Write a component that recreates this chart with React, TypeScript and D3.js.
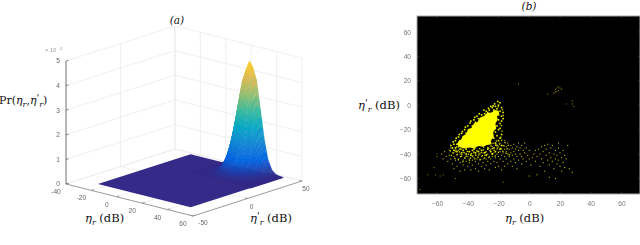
import React, { useEffect, useRef } from "react"
import * as d3 from "d3"

// panel (a): surface heights (x10^-3)
const etaBounds = [-26, 47]
const primeBounds = [-37, 48]
const etaGrid = [-1, 2, 5, 8, 11, 14, 17, 20, 23, 26, 29, 32, 35, 38, 41, 44, 47]
const primeGrid = [18, 21, 24, 27, 30, 33, 36, 39, 42, 45, 48]
const surfaceZ = [
  [0, 0, 0, 0, 0, 0, 0, 0, 0, 0, 0, 0, 0, 0, 0, 0, 0],
  [0, 0, 0, 0, 0.01, 0.02, 0.03, 0.04, 0.05, 0.04, 0.03, 0.02, 0.01, 0, 0, 0, 0],
  [0, 0, 0, 0.01, 0.02, 0.05, 0.09, 0.13, 0.14, 0.13, 0.09, 0.05, 0.02, 0.01, 0, 0, 0],
  [0, 0, 0, 0.02, 0.05, 0.12, 0.22, 0.31, 0.35, 0.31, 0.22, 0.12, 0.05, 0.02, 0, 0, 0],
  [0, 0, 0.01, 0.03, 0.1, 0.25, 0.46, 0.68, 0.77, 0.68, 0.46, 0.25, 0.1, 0.03, 0.01, 0, 0],
  [0, 0, 0.02, 0.07, 0.2, 0.47, 0.88, 1.28, 1.45, 1.28, 0.88, 0.47, 0.2, 0.07, 0.02, 0, 0],
  [0, 0.01, 0.03, 0.11, 0.32, 0.77, 1.43, 2.09, 2.36, 2.09, 1.43, 0.77, 0.32, 0.11, 0.03, 0.01, 0],
  [0, 0.01, 0.04, 0.15, 0.45, 1.09, 2.04, 2.97, 3.36, 2.97, 2.04, 1.09, 0.45, 0.15, 0.04, 0.01, 0],
  [0, 0.01, 0.05, 0.19, 0.56, 1.35, 2.52, 3.66, 4.15, 3.66, 2.52, 1.35, 0.56, 0.19, 0.05, 0.01, 0],
  [0, 0.01, 0.05, 0.2, 0.6, 1.45, 2.7, 3.93, 4.45, 3.93, 2.7, 1.45, 0.6, 0.2, 0.05, 0.01, 0],
  [0, 0.01, 0.05, 0.19, 0.56, 1.35, 2.52, 3.66, 4.15, 3.66, 2.52, 1.35, 0.56, 0.19, 0.05, 0.01, 0]
]
const zTicks = [0, 1, 2, 3, 4, 5]
const etaTicks = [-40, -20, 0, 20, 40, 60]
const primeTicks = [-50, 0, 50]
const parula = ["#352a87", "#0363e1", "#1485d4", "#06a7c6", "#38b99e", "#92bf73", "#d9ba56", "#fcce2e", "#f9fb0e"]

// panel (b): scatter, [eta, eta'] in dB
const scatterTicks = [-60, -40, -20, 0, 20, 40, 60]
const coreOutline = [
  [-47, -32], [-46, -29.5], [-44.5, -28.5], [-43, -25], [-41, -23.5], [-40, -20], [-37.5, -18.5], [-36, -15],
  [-33.5, -13.5], [-32, -10], [-29.5, -9], [-27.5, -6.5], [-24.5, -6], [-22.5, -4], [-20, -4.5], [-19.5, -7],
  [-21, -9], [-20.5, -12], [-22, -15], [-21.5, -19], [-23.5, -22], [-23, -26], [-25, -29], [-24.5, -32],
  [-27.5, -32.5], [-30, -34], [-33, -33.5], [-36, -35.5], [-39, -34.5], [-42, -35.5], [-45, -34.5]
]
const clusterPoints = [
  [-19, 2], [-20, 0], [-22, -1], [-18, -2], [-21, -3], [-24, -2], [-19, -5], [-17, -6], [-23, -4], [-26, -4],
  [-25, -1], [-18, -9], [-20, -8], [-17, -11], [-27, -6], [-29, -7], [-28, -5], [-31, -8], [-30, -10], [-33, -11],
  [-32, -13], [-35, -14], [-34, -16], [-37, -17], [-36, -19], [-39, -20], [-38, -22], [-41, -23], [-40, -25], [-43, -26],
  [-42, -28], [-45, -29], [-44, -31], [-47, -32], [-46, -34], [-48, -35], [-45, -36], [-43, -37], [-41, -36], [-39, -38],
  [-37, -37], [-35, -39], [-33, -38], [-31, -37], [-29, -39], [-27, -36], [-25, -38], [-23, -35], [-21, -33], [-22, -31],
  [-20, -29], [-23, -27], [-21, -25], [-22, -22], [-20, -20], [-21, -17], [-19, -15], [-20, -12], [-18, -13], [-38, -13],
  [-36, -12], [-34, -9], [-40, -17], [-42, -20], [-44, -23], [-46, -26], [-48, -29], [-49, -32], [-50, -35], [-49, -37],
  [-47, -38], [-44, -39], [-41, -40], [-38, -41], [-36, -36], [-28, -41], [-24, -40], [-22, -38], [-19, -36], [-18, -33],
  [-19, -27], [-18, -24], [-19, -19], [-22.5, 1], [-20.5, 3], [-23.5, -0.5], [-26.5, -2.5], [-29.5, -4], [-32.5, -7],
  [-35.5, -10], [-38.5, -14.5], [-41.5, -18], [-43.5, -21.5], [-45.5, -24], [-47.5, -27], [-49.5, -30], [-51, -33]
]
const midPoints = [
  [-51.3, -37.4], [-50.6, -41.2], [-49.2, -39.1], [-48.4, -43.6], [-47.7, -36.8], [-46.9, -40.3], [-46.1, -44.7], [-45.4, -38.2],
  [-44.6, -42.1], [-43.9, -40.6], [-43.2, -46.3], [-42.5, -38.7], [-41.8, -43.4], [-41.1, -41.8], [-40.3, -37.9], [-39.6, -40.2],
  [-38.9, -45.1], [-38.2, -43.2], [-37.5, -39.6], [-36.8, -41.7], [-36.1, -38.3], [-35.4, -43.9], [-34.7, -40.8], [-34, -37.2],
  [-33.3, -42.6], [-32.6, -39.9], [-31.9, -44.4], [-31.2, -38.8], [-30.5, -41.3], [-29.8, -36.6], [-29.1, -43.1], [-28.4, -38.4],
  [-27.7, -40.7], [-27, -34.6], [-26.3, -42.8], [-25.6, -37.1], [-24.9, -33.4], [-24.2, -39.7], [-23.5, -31.2], [-22.8, -36.9],
  [-22.1, -41.5], [-21.4, -29.3], [-20.7, -35.1], [-20, -38.6], [-19.3, -31.8], [-18.6, -35.4], [-17.9, -28.7], [-17.2, -37.8],
  [-16.5, -33.2], [-15.8, -30.6], [-15.1, -39.3], [-14.4, -35.7], [-13.7, -32.9], [-13, -40.6], [-47.3, -34.2], [-45.8, -33.1],
  [-43.4, -34.8], [-41.6, -33.3], [-39.2, -34.7], [-37.1, -34.1], [-35.3, -35.2], [-32.2, -35.6], [-29.7, -34.3], [-26.4, -35.2],
  [-24.1, -35.6], [-21.8, -31.9], [-18.4, -26.2], [-17.7, -21.3], [-18.1, -16.7], [-16.9, -8.4], [-17.4, -3.8], [-20.2, -1.3]
]
const tailPoints = [
  [-57, -40], [-56, -44], [-55, -38], [-54, -42], [-53, -46], [-52, -37], [-52, -41], [-51, -35], [-51, -44], [-50, -39],
  [-50, -48], [-49, -42], [-49, -52], [-48, -38], [-48, -45], [-47, -41], [-47, -50], [-46, -37], [-46, -44], [-45, -40],
  [-45, -47], [-45, -54], [-44, -42], [-44, -36], [-43, -45], [-43, -49], [-42, -39], [-42, -43], [-42, -53], [-41, -46],
  [-40, -38], [-40, -42], [-40, -50], [-39, -44], [-39, -47], [-38, -40], [-38, -53], [-37, -42], [-37, -45], [-37, -49],
  [-36, -39], [-36, -43], [-35, -41], [-35, -46], [-35, -52], [-34, -38], [-34, -44], [-33, -41], [-33, -48], [-33, -54],
  [-32, -40], [-32, -45], [-31, -42], [-31, -50], [-30, -39], [-30, -44], [-30, -47], [-29, -41], [-29, -52], [-28, -38],
  [-28, -44], [-28, -49], [-27, -40], [-27, -46], [-26, -42], [-26, -53], [-25, -36], [-25, -44], [-25, -48], [-24, -34],
  [-24, -42], [-23, -39], [-23, -46], [-22, -33], [-22, -43], [-22, -51], [-21, -36], [-21, -40], [-21, -47], [-20, -34],
  [-20, -42], [-20, -50], [-19, -31], [-19, -38], [-19, -44], [-18, -36], [-18, -41], [-18, -53], [-17, -33], [-17, -39],
  [-17, -46], [-16, -29], [-16, -36], [-16, -42], [-16, -50], [-15, -34], [-15, -38], [-15, -44], [-14, -31], [-14, -40],
  [-14, -48], [-13, -36], [-13, -42], [-12, -33], [-12, -39], [-12, -46], [-11, -35], [-11, -41], [-11, -50], [-10, -32],
  [-10, -38], [-10, -44], [-9, -36], [-9, -40], [-9, -47], [-8, -34], [-8, -42], [-8, -52], [-7, -31], [-7, -37],
  [-7, -45], [-6, -35], [-6, -40], [-5, -33], [-5, -42], [-5, -48], [-4, -37], [-4, -44], [-3, -31], [-3, -39],
  [-2, -35], [-2, -46], [-1, -41], [0, -37], [0, -44], [0, -58], [1, -49], [2, -43], [3, -40], [4, -37],
  [4, -46], [5, -42], [5, -57], [6, -36], [7, -40], [7, -50], [8, -34], [8, -44], [9, -38], [9, -47],
  [10, -33], [10, -54], [11, -41], [11, -36], [12, -45], [12, -32], [13, -39], [13, -49], [13, -59], [14, -35],
  [14, -43], [15, -46], [15, -33], [16, -40], [16, -52], [17, -44], [17, -37], [17, -60], [18, -48], [18, -41],
  [19, -31], [19, -35], [19, -45], [20, -39], [20, -50], [21, -43], [21, -54], [22, -37], [22, -47], [23, -41],
  [23, -51], [24, -44], [25, -33], [26, -52], [28, -55]
]
const outlierPoints = [
  [-71, -69], [-66, -57], [-61, -57], [-62, -51], [-60, -42], [-60, -40], [-58, -58], [-56, -57], [-48, -60], [-17, -63],
  [-7, 17.5], [17, 13], [19, 15], [18, 11], [20, 14], [17, 11], [16, 10], [21, 13], [19, 12], [18, 14],
  [12, 9], [24, 1], [28, 3.5], [28, 1], [29, -1]
]

const App = () => {
  const ref = useRef<SVGSVGElement>(null)

  useEffect(() => {
    const svg = d3.select(ref.current)
    svg.selectAll("*").remove()
    const blur = svg.append("defs").append("filter").attr("id", "soft")
      .attr("x", "-5%").attr("y", "-5%").attr("width", "110%").attr("height", "110%")
    blur.append("feGaussianBlur").attr("stdDeviation", 0.4)
    drawSurface(svg.append("g").attr("filter", "url(#soft)"))
    drawScatter(svg.append("g").attr("filter", "url(#soft)"))
    drawLabels(svg)
  }, [])

  const drawSurface = (g: any) => {
    const origin = [66, 184]
    const etaX = d3.scaleLinear().domain([-40, 60]).range([0, 127])
    const etaY = d3.scaleLinear().domain([-40, 60]).range([0, 32])
    const primeX = d3.scaleLinear().domain([-50, 50]).range([0, 109])
    const primeY = d3.scaleLinear().domain([-50, 50]).range([0, -35])
    const zY = d3.scaleLinear().domain([0, 5]).range([0, -123])
    const color = d3.scaleLinear<string>()
      .domain(parula.map((_, i) => (i * 5) / (parula.length - 1)))
      .range(parula)
    const project = (e: number, p: number, z = 0): [number, number] => [
      origin[0] + etaX(e) + primeX(p),
      origin[1] + etaY(e) + primeY(p) + zY(z)
    ]
    const seg = (a: [number, number], b: [number, number], stroke: string, w = 0.7) =>
      g.append("line").attr("x1", a[0]).attr("y1", a[1]).attr("x2", b[0]).attr("y2", b[1])
        .attr("stroke", stroke).attr("stroke-width", w)
    const gridColor = "#e9e9e9"
    const eMin = -40, eMax = 60, pMin = -50, pMax = 50

    // walls and floor grid
    zTicks.forEach(z => {
      seg(project(eMin, pMin, z), project(eMin, pMax, z), gridColor)
      seg(project(eMin, pMax, z), project(eMax, pMax, z), gridColor)
    })
    etaTicks.forEach(e => {
      seg(project(e, pMax, 0), project(e, pMax, 5), gridColor)
      seg(project(e, pMin, 0), project(e, pMax, 0), gridColor)
    })
    primeTicks.forEach(p => {
      seg(project(eMin, p, 0), project(eMin, p, 5), gridColor)
      seg(project(eMin, p, 0), project(eMax, p, 0), gridColor)
    })

    // flat part of the surface
    const flat = [
      project(etaBounds[0], primeBounds[0]), project(etaBounds[1], primeBounds[0]),
      project(etaBounds[1], primeBounds[1]), project(etaBounds[0], primeBounds[1])
    ]
    g.append("path").attr("d", d3.line()(flat) + "Z").attr("fill", parula[0])

    // peak, shaded like "shading interp": every grid cell is split for the colour ramp
    const steps = 3
    const cells: { d: string; fill: string; depth: number }[] = []
    for (let j = 0; j < primeGrid.length - 1; j++) {
      for (let i = 0; i < etaGrid.length - 1; i++) {
        for (let sj = 0; sj < steps; sj++) {
          for (let si = 0; si < steps; si++) {
            const at = (u: number, v: number) => {
              const z = d3.interpolateNumber(
                d3.interpolateNumber(surfaceZ[j][i], surfaceZ[j][i + 1])(u),
                d3.interpolateNumber(surfaceZ[j + 1][i], surfaceZ[j + 1][i + 1])(u)
              )(v)
              const e = d3.interpolateNumber(etaGrid[i], etaGrid[i + 1])(u)
              const p = d3.interpolateNumber(primeGrid[j], primeGrid[j + 1])(v)
              return { e, p, z }
            }
            const corners = [
              at(si / steps, sj / steps), at((si + 1) / steps, sj / steps),
              at((si + 1) / steps, (sj + 1) / steps), at(si / steps, (sj + 1) / steps)
            ]
            const meanZ = d3.mean(corners, c => c.z) as number
            const depth = d3.mean(corners, c => etaY(c.e) + primeY(c.p)) as number
            cells.push({
              d: d3.line()(corners.map(c => project(c.e, c.p, c.z))) + "Z",
              fill: color(meanZ),
              depth
            })
          }
        }
      }
    }
    cells.sort((a, b) => a.depth - b.depth)
    g.selectAll("path.cell").data(cells).join("path").attr("class", "cell")
      .attr("d", d => d.d).attr("fill", d => d.fill).attr("stroke", d => d.fill).attr("stroke-width", 0.5)

    // axes
    const axisColor = "#555"
    seg(project(eMin, pMin, 0), project(eMin, pMin, 5), axisColor, 0.8)
    seg(project(eMin, pMin, 0), project(eMax, pMin, 0), "#888", 0.8)
    seg(project(eMax, pMin, 0), project(eMax, pMax, 0), "#888", 0.8)
    zTicks.forEach(z => {
      const a = project(eMin, pMin, z)
      seg(a, [a[0] + 2.5, a[1] - 0.7], axisColor, 0.7)
    })
    etaTicks.forEach(e => {
      const a = project(e, pMin, 0)
      seg(a, [a[0] + 2.5, a[1] - 0.9], "#777", 0.7)
    })
    primeTicks.forEach(p => {
      const a = project(eMax, p, 0)
      seg(a, [a[0] - 2.5, a[1] - 0.7], "#777", 0.7)
    })

    const tick = (x: number, y: number, t: string, anchor = "middle") =>
      g.append("text").attr("x", x).attr("y", y).attr("text-anchor", anchor)
        .attr("font-family", "Liberation Sans").attr("font-size", 6.6).attr("fill", "#666").text(t)
    zTicks.forEach(z => {
      const a = project(eMin, pMin, z)
      tick(a[0] - 6, a[1] + 2.4, String(z), "end")
    })
    etaTicks.forEach(e => {
      const a = project(e, pMin, 0)
      tick(a[0] - 10, a[1] + 10, String(e))
    })
    primeTicks.forEach(p => {
      const a = project(eMax, p, 0)
      tick(a[0] + (p === -50 ? 10 : 4), a[1] + (p === -50 ? 9 : 10), String(p))
    })
    tick(45, 52, "× 10", "start").attr("fill", "#999").attr("font-size", 5.6)
    tick(59, 50, "-3", "start").attr("fill", "#999").attr("font-size", 4)
  }

  const drawScatter = (g: any) => {
    const left = 417, right = 640, top = 16, bottom = 194
    const x = d3.scaleLinear().domain([-73, 72]).range([left, right])
    const y = d3.scaleLinear().domain([-72.7, 73]).range([bottom, top])

    g.append("rect").attr("x", left).attr("y", top).attr("width", right - left).attr("height", bottom - top)
      .attr("fill", "#000").attr("stroke", "#aaa").attr("stroke-width", 1)

    const xAxis = d3.axisBottom(x).tickValues(scatterTicks).tickSize(0).tickPadding(7).tickFormat(d3.format("d") as any)
    const yAxis = d3.axisLeft(y).tickValues(scatterTicks).tickSize(0).tickPadding(6).tickFormat(d3.format("d") as any)
    const gx = g.append("g").attr("transform", `translate(0,${bottom})`).call(xAxis)
    const gy = g.append("g").attr("transform", `translate(${left},0)`).call(yAxis)
    for (const a of [gx, gy]) {
      a.select(".domain").remove()
      a.selectAll("text").attr("font-family", "Liberation Sans").attr("font-size", 6.6).attr("fill", "#777")
    }
    // inner tick marks, all four sides
    scatterTicks.forEach(t => {
      for (const [x1, y1, x2, y2] of [
        [x(t), top, x(t), top + 2], [x(t), bottom, x(t), bottom - 2],
        [left, y(t), left + 2, y(t)], [right, y(t), right - 2, y(t)]
      ]) {
        g.append("line").attr("x1", x1).attr("y1", y1).attr("x2", x2).attr("y2", y2)
          .attr("stroke", "#555").attr("stroke-width", 0.6)
      }
    })

    const dots = (list: number[][], size: number, fill: string) =>
      g.append("g").selectAll("rect").data(list).join("rect")
        .attr("x", (d: number[]) => x(d[0]) - size / 2).attr("y", (d: number[]) => y(d[1]) - size / 2)
        .attr("width", size).attr("height", size).attr("fill", fill)

    dots(tailPoints, 1.1, "#b8b800")
    dots(outlierPoints, 1, "#909000")
    dots(midPoints, 1.3, "#dada00")
    dots(clusterPoints, 1.6, "#f4f400")
    g.append("path")
      .attr("d", d3.line().x(d => x(d[0])).y(d => y(d[1]))(coreOutline as any) + "Z")
      .attr("fill", "#ffff00")
  }

  const drawLabels = (svg: any) => {
    const label = (x: number, y: number, anchor = "start") =>
      svg.append("text").attr("x", x).attr("y", y).attr("text-anchor", anchor)
        .attr("font-family", "DejaVu Serif").attr("font-size", 11.5).attr("fill", "#111")
    // eta, optional prime, r subscript; the next piece comes back up to the baseline
    const etaPart = (t: any, prime: boolean) => {
      t.append("tspan").attr("font-style", "italic").text("η")
      if (prime) t.append("tspan").attr("font-size", 10).attr("dy", -3).text("'")
      t.append("tspan").attr("font-style", "italic").attr("font-size", 8).attr("dy", prime ? 6 : 3).text("r")
    }
    const etaLabel = (x: number, y: number, prime: boolean) => {
      const t = label(x, y)
      etaPart(t, prime)
      t.append("tspan").attr("dy", -3).text(" (dB)")
    }

    label(177, 24, "middle").attr("font-size", 10.5).attr("font-style", "italic").text("(a)")
    label(529, 10, "middle").attr("font-size", 10.5).attr("font-style", "italic").text("(b)")

    const pr = label(-1, 104).attr("font-size", 11)
    pr.append("tspan").text("Pr(")
    etaPart(pr, false)
    pr.append("tspan").attr("dy", -3).text(",")
    etaPart(pr, true)
    pr.append("tspan").attr("dy", -3).text(")")

    etaLabel(85, 222, false)
    etaLabel(250, 222, true)
    etaLabel(358, 109, true)
    etaLabel(505, 222, false)
  }

  return <svg ref={ref} width={640} height={245} style={{ position: "absolute", left: 0, top: 0, background: "#fff" }} />
}

export default App
